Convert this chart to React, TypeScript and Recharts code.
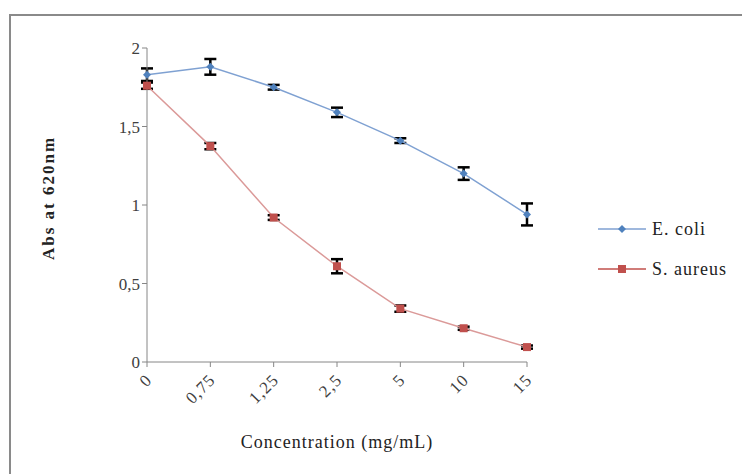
import React from "react";
import { LineChart, Line, XAxis, YAxis, ErrorBar, Legend } from "recharts";

// concentration (mg/mL) categories and absorbance readings
const concentrations = ["0", "0,75", "1,25", "2,5", "5", "10", "15"];
const ecoli = [1.83, 1.88, 1.75, 1.59, 1.41, 1.2, 0.94];
const ecoliErr = [0.04, 0.05, 0.015, 0.03, 0.015, 0.04, 0.07];
const saureus = [1.76, 1.375, 0.92, 0.61, 0.34, 0.215, 0.095];
const saureusErr = [0.02, 0.02, 0.015, 0.045, 0.02, 0.01, 0.01];
const yTicks = [0, 0.5, 1, 1.5, 2];

const data = concentrations.map((c, i) => ({
  c,
  ecoli: ecoli[i],
  ecoliErr: ecoliErr[i],
  saureus: saureus[i],
  saureusErr: saureusErr[i],
}));

const FONT = "'Liberation Serif', 'DejaVu Serif', serif";
const BLUE = "#4F81BD";
const BLUE_LINE = "#7FA1D2";
const RED = "#C0504D";
const RED_LINE = "#DB9A99";
const AXIS = "#868686";

const Diamond = (p: any) => {
  const { cx, cy } = p;
  if (cx == null || cy == null) return null;
  return <path d={`M${cx},${cy - 4}L${cx + 4},${cy}L${cx},${cy + 4}L${cx - 4},${cy}Z`} fill={BLUE} />;
};

const Square = (p: any) => {
  const { cx, cy } = p;
  if (cx == null || cy == null) return null;
  return <rect x={cx - 4} y={cy - 4} width={8} height={8} fill={RED} />;
};

const XTick = (p: any) => {
  const { x, y, payload } = p;
  return (
    <text
      x={x + 6}
      y={y + 12}
      transform={`rotate(-45 ${x + 6} ${y + 12})`}
      textAnchor="end"
      fontFamily={FONT}
      fontSize={17}
      letterSpacing={1}
      fill="#404040"
    >
      {payload.value}
    </text>
  );
};

const LegendBox = () => (
  <div style={{ fontFamily: FONT, fontSize: 18, letterSpacing: 1, color: "#222" }}>
    {[
      { name: "E. coli", line: BLUE_LINE, dot: "diamond" },
      { name: "S. aureus", line: RED, dot: "square" },
    ].map((it) => (
      <div key={it.name} style={{ display: "flex", alignItems: "center", height: 40 }}>
        <svg width={50} height={12}>
          <line x1={0} y1={6} x2={48} y2={6} stroke={it.line} strokeWidth={1.5} />
          {it.dot === "diamond" ? (
            <path d="M24,2L28,6L24,10L20,6Z" fill={BLUE} />
          ) : (
            <rect x={20} y={2} width={8} height={8} fill={RED} />
          )}
        </svg>
        <span style={{ marginLeft: 4 }}>{it.name}</span>
      </div>
    ))}
  </div>
);

export default function App() {
  return (
    <div style={{ position: "relative", width: 742, height: 466, overflow: "hidden", background: "#fff" }}>
      <div
        style={{
          position: "absolute",
          left: 1,
          top: 6,
          width: 800,
          height: 600,
          border: "2px solid #8a8a8a",
        }}
      />
      <div style={{ position: "absolute", left: 0, top: 0 }}>
        <LineChart width={742} height={466} data={data} margin={{ top: 40, right: 223, bottom: 17, left: 29 }}>
          <XAxis
            dataKey="c"
            height={95}
            stroke={AXIS}
            tickLine={{ stroke: AXIS }}
            tickSize={5}
            tick={<XTick />}
            interval={0}
            label={{
              value: "Concentration (mg/mL)",
              position: "insideBottom",
              offset: 9,
              style: { fontFamily: FONT, fontSize: 18, letterSpacing: 1, fill: "#222" },
            }}
          />
          <YAxis
            width={110}
            domain={[0, 2]}
            ticks={yTicks}
            stroke={AXIS}
            tickSize={5}
            tickFormatter={(v: number) => String(v).replace(".", ",")}
            tick={{ fontFamily: FONT, fontSize: 17, fill: "#404040" }}
            label={{
              value: "Abs at 620nm",
              angle: -90,
              position: "insideLeft",
              offset: 11,
              dy: -7,
              style: {
                textAnchor: "middle",
                fontFamily: FONT,
                fontSize: 17,
                letterSpacing: 2,
                fontWeight: "bold",
                fill: "#222",
              },
            }}
          />
          <Legend
            layout="vertical"
            align="center"
            verticalAlign="middle"
            content={<LegendBox />}
            wrapperStyle={{ left: 590, top: 201, width: 150, height: 80 }}
          />
          <Line
            dataKey="ecoli"
            name="E. coli"
            stroke={BLUE_LINE}
            strokeWidth={1.5}
            dot={<Diamond />}
            isAnimationActive={false}
          >
            <ErrorBar dataKey="ecoliErr" width={6} stroke="#000" strokeWidth={2.5} direction="y" />
          </Line>
          <Line
            dataKey="saureus"
            name="S. aureus"
            stroke={RED_LINE}
            strokeWidth={1.5}
            dot={<Square />}
            isAnimationActive={false}
          >
            <ErrorBar dataKey="saureusErr" width={6} stroke="#000" strokeWidth={2.5} direction="y" />
          </Line>
        </LineChart>
      </div>
    </div>
  );
}
